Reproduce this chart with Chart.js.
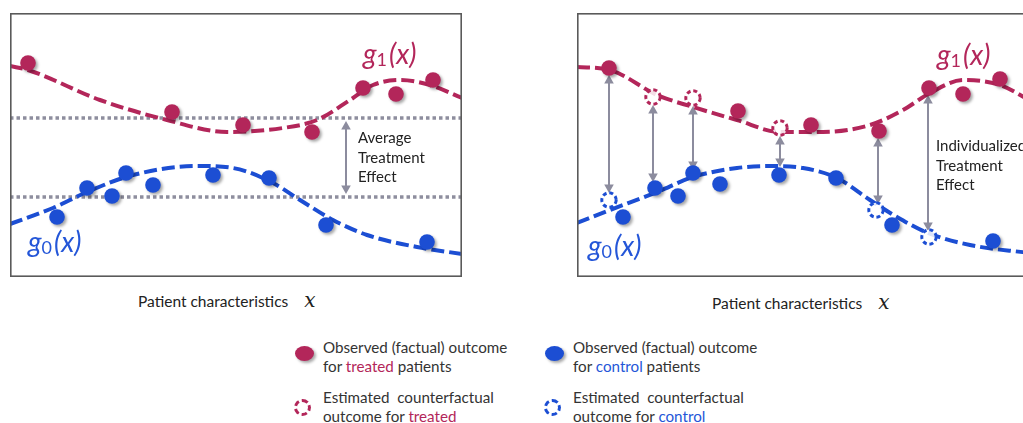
<!DOCTYPE html>
<html>
<head>
<meta charset="utf-8">
<script src="https://cdn.jsdelivr.net/npm/chart.js@4.4.1/dist/chart.umd.min.js"></script>
<style>
  body { margin: 0; width: 1023px; height: 423px; overflow: hidden; background: #fff; position: relative;
         font-family: Lato, "Open Sans", sans-serif; color: #333; }
  .panel { position: absolute; top: 13px; width: 452px; height: 264px; }
  .t { position: absolute; white-space: pre; font-size: 15.2px; line-height: 19px; }
  .ax { position: absolute; white-space: pre; font-size: 15.5px; line-height: 20px; color: #222; }
  .note { position: absolute; white-space: pre; font-size: 15px; line-height: 19.5px; color: #222; }
  .g { position: absolute; font-style: italic; font-weight: 400; font-size: 28px; line-height: 28px; white-space: nowrap; }
  .g sub { font-style: normal; font-size: 18px; vertical-align: -2px; margin-right: 2px; }
  .red { color: #b3265a; }
  .blue { color: #2456d8; }
  .mx { font-family: "DejaVu Serif", serif; font-style: italic; font-size: 20px; margin-left: 16px; }
  .dot { position: absolute; width: 19px; height: 15px; border-radius: 50%; box-shadow: 2px 2px 3px rgba(0,0,0,0.35); }
  .ring { position: absolute; width: 11px; height: 11px; border-radius: 50%; border: 3px dashed; }
</style>
</head>
<body>
<div class="panel" style="left:10px"><canvas id="left" width="452" height="264"></canvas></div>
<div class="panel" style="left:577px"><canvas id="right" width="452" height="264"></canvas></div>

<div class="g red" style="left:363px;top:39px">g<sub>1</sub>(x)</div>
<div class="g blue" style="left:28px;top:227px">g<sub>0</sub>(x)</div>
<div class="g red" style="left:937px;top:40px">g<sub>1</sub>(x)</div>
<div class="g blue" style="left:588px;top:231px">g<sub>0</sub>(x)</div>

<div class="note" style="left:358px;top:128px">Average
Treatment
Effect</div>
<div class="note" style="left:936px;top:136px">Individualized
Treatment
Effect</div>

<div class="ax" style="left:138px;top:290px">Patient characteristics<span class="mx">x</span></div>
<div class="ax" style="left:712px;top:292px">Patient characteristics<span class="mx">x</span></div>

<div class="dot" style="left:295px;top:346px;background:#b3265a"></div>
<div class="t" style="left:323px;top:338px">Observed (factual) outcome
for <span class="red">treated</span> patients</div>
<div class="ring" style="left:294px;top:399px;border-color:#b3265a"></div>
<div class="t" style="left:323px;top:388px">Estimated  counterfactual
outcome for <span class="red">treated</span></div>

<div class="dot" style="left:545px;top:346px;background:#1c4ed3"></div>
<div class="t" style="left:573px;top:338px">Observed (factual) outcome
for <span class="blue">control</span> patients</div>
<div class="ring" style="left:544px;top:399px;border-color:#1c4ed3"></div>
<div class="t" style="left:573px;top:388px">Estimated  counterfactual
outcome for <span class="blue">control</span></div>

<script>
  const RED = '#b3265a', BLUE = '#1c4ed3', GREY = '#8c8c9e';

  // x = patient characteristic, y = outcome (panel units)
  // left panel
  const g1LeftX = [0, 18, 90, 157, 217, 273, 307, 340, 363, 390, 420, 452];
  const g1LeftY = [211, 207, 177, 157, 145, 149, 157, 177, 192, 197, 192, 179];
  const g0LeftX = [0, 43, 77, 123, 187, 223, 263, 290, 323, 357, 407, 452];
  const g0LeftY = [53, 69, 85, 102, 111, 109, 94, 77, 57, 42, 30, 23];
  const treatedLeftX = [18, 162, 233, 302, 353, 386, 423];
  const treatedLeftY = [214, 165, 152, 145, 189, 183, 197];
  const controlLeftX = [47, 77, 102, 116, 143, 203, 259, 316, 417];
  const controlLeftY = [60, 89, 81, 104, 92, 102, 99, 52, 35];
  const ateLevels = [159, 80];
  const ateArrow = [336, 156, 83];

  // right panel
  const g1RightX = [0, 33, 80, 116, 160, 203, 246, 293, 326, 353, 386, 423, 452];
  const g1RightY = [210, 207, 182, 170, 157, 145, 145, 152, 167, 184, 197, 192, 177];
  const g0RightX = [0, 33, 80, 116, 160, 193, 226, 260, 293, 320, 351, 393, 452];
  const g0RightY = [54, 67, 85, 100, 109, 111, 109, 99, 77, 60, 44, 32, 24];
  const treatedRightX = [32, 161, 234, 302, 352, 386, 423];
  const treatedRightY = [209, 166, 152, 146, 189, 183, 198];
  const treatedCfX = [76, 116, 203];
  const treatedCfY = [180, 179, 149];
  const controlRightX = [46, 78, 101, 116, 143, 202, 259, 315, 416];
  const controlRightY = [60, 89, 81, 104, 93, 102, 99, 52, 36];
  const controlCfX = [32, 299, 352];
  const controlCfY = [77, 67, 40];
  // [x, upper tip, lower tip]
  const iteArrows = [[32, 202, 84], [76, 172, 95], [116, 171, 107], [203, 141, 110], [301, 139, 73], [351, 182, 46]];

  function pts(xs, ys) { return xs.map((x, i) => ({ x: x, y: ys[i] })); }

  function curve(xs, ys, color) {
    return { data: pts(xs, ys), showLine: true, borderColor: color, borderWidth: 4, borderDash: [13, 5],
             pointRadius: 0, cubicInterpolationMode: 'monotone', order: 5 };
  }
  function filled(xs, ys, color) {
    return { data: pts(xs, ys), backgroundColor: color, borderWidth: 0, pointRadius: 7.8, shadow: true, order: 1 };
  }
  function hollow(xs, ys, color) {
    return { data: pts(xs, ys), backgroundColor: 'rgba(255,255,255,0.85)', borderColor: color, borderWidth: 3,
             pointRadius: 7.2, ringDash: true, order: 0 };
  }
  function level(y) {
    return { data: [{ x: 0, y: y }, { x: 452, y: y }], showLine: true, borderColor: '#8e8e9e', borderWidth: 3.5,
             borderDash: [3.5, 3], pointRadius: 0, order: 6 };
  }

  const extras = {
    id: 'extras',
    beforeDatasetDraw(chart, args) {
      const ds = chart.data.datasets[args.index];
      const ctx = chart.ctx;
      ctx.save();
      if (ds.shadow) {
        ctx.shadowColor = 'rgba(0,0,0,0.35)';
        ctx.shadowBlur = 3;
        ctx.shadowOffsetX = 2;
        ctx.shadowOffsetY = 2;
      }
      if (ds.ringDash) ctx.setLineDash([4, 2.8]);
    },
    afterDatasetDraw(chart) { chart.ctx.restore(); },
    beforeDatasetsDraw(chart) {
      const arrows = chart.options.plugins.extras.arrows || [];
      const ctx = chart.ctx, xs = chart.scales.x, ys = chart.scales.y;
      ctx.save();
      ctx.strokeStyle = GREY; ctx.fillStyle = GREY; ctx.lineWidth = 2;
      arrows.forEach(a => {
        const x = xs.getPixelForValue(a[0]);
        const y1 = ys.getPixelForValue(a[1]), y2 = ys.getPixelForValue(a[2]);
        const h = 8.5, w = 4.8;
        ctx.beginPath(); ctx.moveTo(x, y1 + h - 1); ctx.lineTo(x, y2 - h + 1); ctx.stroke();
        ctx.beginPath(); ctx.moveTo(x, y1); ctx.lineTo(x - w, y1 + h); ctx.lineTo(x + w, y1 + h); ctx.closePath(); ctx.fill();
        ctx.beginPath(); ctx.moveTo(x, y2); ctx.lineTo(x - w, y2 - h); ctx.lineTo(x + w, y2 - h); ctx.closePath(); ctx.fill();
      });
      ctx.restore();
    },
    afterDraw(chart) {
      const a = chart.chartArea, ctx = chart.ctx;
      ctx.save();
      ctx.strokeStyle = '#5a5a5a'; ctx.lineWidth = 1.6;
      ctx.strokeRect(a.left + 0.8, a.top + 0.8, a.right - a.left - 1.6, a.bottom - a.top - 1.6);
      ctx.restore();
    }
  };

  function makePanel(id, datasets, arrows) {
    return new Chart(document.getElementById(id), {
      type: 'scatter',
      data: { datasets: datasets },
      options: {
        responsive: false, animation: false, events: [],
        layout: { padding: 0, autoPadding: false },
        scales: {
          x: { type: 'linear', min: 0, max: 452, display: false },
          y: { type: 'linear', min: 0, max: 264, display: false }
        },
        plugins: { legend: { display: false }, tooltip: { enabled: false }, extras: { arrows: arrows } }
      },
      plugins: [extras]
    });
  }

  makePanel('left', [
    filled(treatedLeftX, treatedLeftY, RED),
    filled(controlLeftX, controlLeftY, BLUE),
    curve(g1LeftX, g1LeftY, RED),
    curve(g0LeftX, g0LeftY, BLUE),
    level(ateLevels[0]),
    level(ateLevels[1])
  ], [ateArrow]);

  makePanel('right', [
    hollow(treatedCfX, treatedCfY, RED),
    hollow(controlCfX, controlCfY, BLUE),
    filled(treatedRightX, treatedRightY, RED),
    filled(controlRightX, controlRightY, BLUE),
    curve(g1RightX, g1RightY, RED),
    curve(g0RightX, g0RightY, BLUE)
  ], iteArrows);
</script>
</body>
</html>
